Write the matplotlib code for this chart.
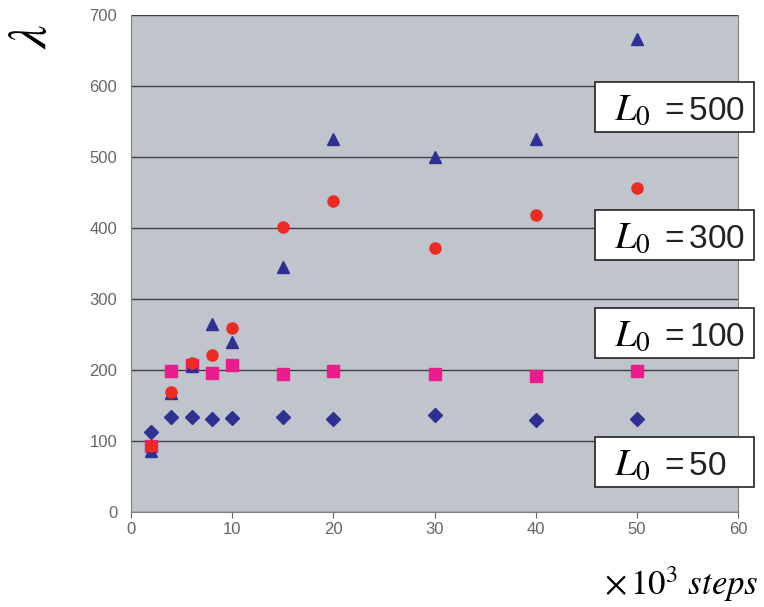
import matplotlib.pyplot as plt
from matplotlib.patches import Rectangle

plt.rcParams['mathtext.fontset'] = 'stix'
plt.rcParams['font.family'] = ['Liberation Sans', 'DejaVu Sans']

steps = [2, 4, 6, 8, 10, 15, 20, 30, 40, 50]
lam_500 = [86, 168, 206, 265, 240, 345, 526, 500, 526, 667]
lam_300 = [93, 169, 210, 221, 259, 402, 438, 372, 419, 457]
lam_100 = [93, 199, 207, 196, 207, 195, 199, 195, 192, 199]
lam_50 = [113, 134, 134, 131, 133, 134, 131, 137, 130, 131]

labels = ['500', '300', '100', '50']
box_top_px = [82, 210, 308, 437]  # top edge of each label box, in pixels

W, H = 764, 607
fig = plt.figure(figsize=(W / 100, H / 100), dpi=100)
ax = fig.add_axes([0.1715, 0.1565, 0.7945, 0.8185])
ax.set_facecolor('#c0c4cc')

ax.plot(steps, lam_50, 'D', color='#2e3192', markersize=7, linestyle='none')
ax.plot(steps, lam_100, 's', color='#ec1c8c', markersize=9, linestyle='none')
ax.plot(steps, lam_500, '^', color='#2e3192', markersize=9, linestyle='none')
ax.plot(steps, lam_300, 'o', color='#ee2a24', markersize=8, linestyle='none')

ax.set_xlim(0, 60)
ax.set_ylim(0, 700)
ax.set_xticks(range(0, 61, 10))
ax.set_yticks(range(0, 701, 100))
ax.yaxis.grid(True, color='#404040', linewidth=1)
ax.set_axisbelow(True)
ax.tick_params(colors='#666666', labelsize=12, length=4)
ax.tick_params(axis='y', length=0, pad=10)
for s in ax.spines.values():
    s.set_color('#808080')
ax.spines['top'].set_visible(False)

# label boxes on the right
for lab, top in zip(labels, box_top_px):
    x0, w, h = 595 / W, 159 / W, 50 / H
    y0 = 1 - (top + 50) / H
    fig.add_artist(Rectangle((x0, y0), w, h, transform=fig.transFigure,
                             facecolor='white', edgecolor='#222222', linewidth=1.2))
    base = 1 - (top + 38) / H
    fig.text(614 / W, base, r'$L_0$', fontsize=28, va='baseline', ha='left')
    # spread the characters a little, like the original
    for i, ch in enumerate('=' + lab):
        xpx = 664 + (0 if i == 0 else 25 + (i - 1) * 18.5)
        fig.text(xpx / W, base, ch, fontsize=24, family='Liberation Sans',
                 va='baseline', ha='left', color='#222222')

fig.text(0.993, 0.02, r'$\times\,10^3\ \mathit{steps}$', fontsize=25,
         ha='right', va='baseline')
fig.text(0.042, 0.94, r'$\lambda$', fontsize=38, rotation=90,
         ha='center', va='center')

plt.savefig('out.png', dpi=100)
